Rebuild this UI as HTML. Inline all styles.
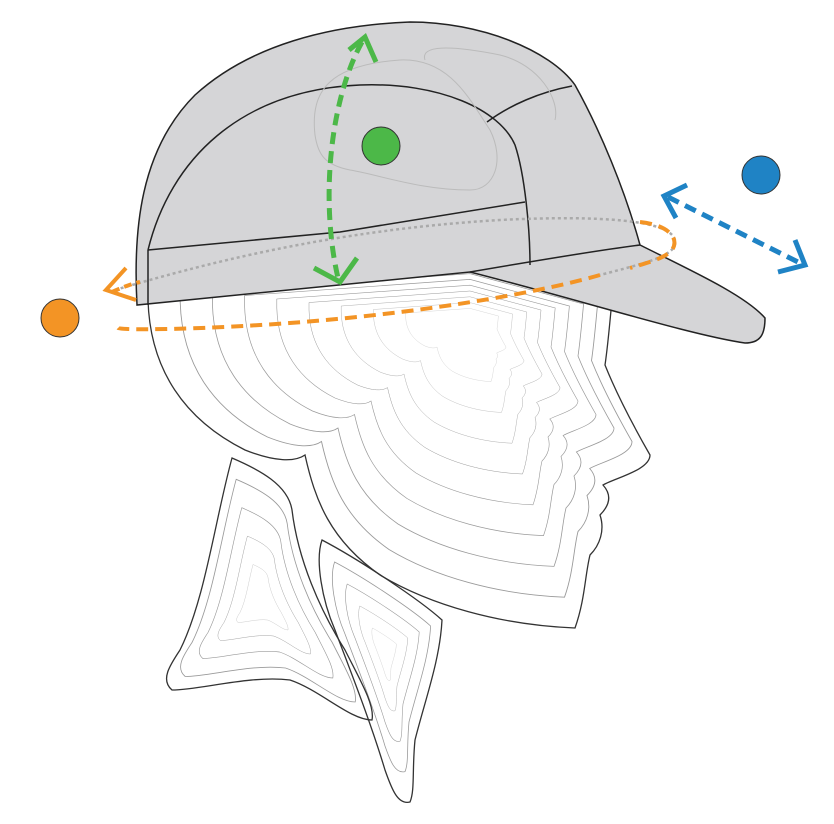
<!DOCTYPE html>
<html><head><meta charset="utf-8"><style>html,body{margin:0;padding:0;background:#fff;width:834px;height:824px;overflow:hidden}</style></head>
<body>
<svg width="834" height="824" viewBox="0 0 834 824" xmlns="http://www.w3.org/2000/svg">
<defs>
<path id="head" d="M148,300 C150,370 185,420 245,450 C275,462 295,462 305,455 C315,500 330,540 380,575 C430,605 500,625 575,628 C585,600 585,575 590,555 C600,545 605,530 600,515 C610,505 612,495 603,485 C615,478 650,470 650,455 C630,420 615,390 605,365 C608,345 610,320 612,300 L470,262 L148,285 Z"/>
<path id="n1" d="M232,458 C260,470 288,485 292,510 C298,560 320,610 345,650 C360,680 375,705 372,720 C350,720 320,690 290,680 C250,675 200,690 172,690 C160,680 170,665 180,650 C205,600 215,520 232,458 Z"/>
<path id="n2" d="M322,540 C360,560 420,600 442,620 C440,660 425,700 415,740 C412,770 415,790 410,802 C398,805 392,790 385,770 C370,720 350,670 335,630 C322,600 315,560 322,540 Z"/>
</defs>
<g fill="none" stroke="#9a9a9a" stroke-width="1">
  <use href="#head" transform="translate(470,320) scale(0.9) translate(-470,-320)"/>
  <use href="#head" transform="translate(470,320) scale(0.8) translate(-470,-320)"/>
  <use href="#head" transform="translate(470,320) scale(0.7) translate(-470,-320)"/>
  <use href="#head" transform="translate(470,320) scale(0.6) translate(-470,-320)"/>
  <use href="#head" transform="translate(470,320) scale(0.5) translate(-470,-320)"/>
  <use href="#head" transform="translate(470,320) scale(0.4) translate(-470,-320)"/>
  <use href="#head" transform="translate(470,320) scale(0.3) translate(-470,-320)"/>
  <use href="#head" transform="translate(470,320) scale(0.2) translate(-470,-320)"/>
  <use href="#n1" transform="translate(260,600) scale(0.85) translate(-260,-600)"/>
  <use href="#n1" transform="translate(260,600) scale(0.65) translate(-260,-600)"/>
  <use href="#n1" transform="translate(260,600) scale(0.45) translate(-260,-600)"/>
  <use href="#n1" transform="translate(260,600) scale(0.25) translate(-260,-600)"/>
  <use href="#n2" transform="translate(385,650) scale(0.8) translate(-385,-650)"/>
  <use href="#n2" transform="translate(385,650) scale(0.6) translate(-385,-650)"/>
  <use href="#n2" transform="translate(385,650) scale(0.4) translate(-385,-650)"/>
  <use href="#n2" transform="translate(385,650) scale(0.2) translate(-385,-650)"/>
</g>
<g fill="none" stroke="#333" stroke-width="1.3">
  <use href="#head"/><use href="#n1"/><use href="#n2"/>
</g>
<!-- cap -->
<path d="M137,305 C133,230 140,150 195,95 C250,45 330,25 410,22 C480,22 550,50 575,85 C600,130 625,190 640,245 C690,270 745,295 765,318 C765,335 760,343 745,343 C690,335 580,300 470,272 L137,305 Z" fill="#d5d5d7" stroke="#222" stroke-width="1.5"/>
<path d="M148,250 C170,160 240,90 360,85 C440,82 500,110 515,145 C525,175 530,230 530,265" fill="none" stroke="#222" stroke-width="1.5"/>
<path d="M148,250 L148,305" fill="none" stroke="#222" stroke-width="1.5"/>
<path d="M148,250 L340,232 L525,202" fill="none" stroke="#222" stroke-width="1.5"/>
<path d="M487,122 C510,105 540,92 572,86" fill="none" stroke="#222" stroke-width="1.5"/>
<path d="M470,272 C540,260 600,250 640,245" fill="none" stroke="#222" stroke-width="1.5"/>
<path d="M315,135 C310,90 330,65 400,60 C450,58 470,100 490,130 C505,160 495,190 470,190 C420,190 380,175 350,170 C325,165 318,155 315,135 Z" fill="none" stroke="#bbb" stroke-width="1"/>
<path d="M425,60 C420,45 450,45 500,55 C540,65 560,100 555,120" fill="none" stroke="#bbb" stroke-width="1"/>
<!-- orange ellipse -->
<path d="M115,290 C200,265 330,230 500,220 C600,215 670,220 675,240 C678,255 650,262 600,275" fill="none" stroke="#aaa" stroke-width="2.5" stroke-dasharray="3,3"/>
<path d="M600,275 C520,298 380,318 260,325 C180,330 120,330 118,328" fill="none" stroke="#f39425" stroke-width="4" stroke-dasharray="12,7"/>
<path d="M640,222 C668,225 680,238 672,250 C665,258 650,262 630,268" fill="none" stroke="#f39425" stroke-width="4" stroke-dasharray="12,7"/>
<path d="M112,292 C125,286 135,283 140,282" fill="none" stroke="#f39425" stroke-width="4" stroke-dasharray="8,5"/>
<path d="M126,268 L106,290 L136,300" fill="none" stroke="#f39425" stroke-width="4"/>
<!-- green arrow -->
<path d="M362,42 C330,100 320,200 338,278" fill="none" stroke="#4cb848" stroke-width="5" stroke-dasharray="12,7"/>
<path d="M349,50 L365,37 L376,62" fill="none" stroke="#4cb848" stroke-width="5"/>
<path d="M314,268 L340,282 L357,258" fill="none" stroke="#4cb848" stroke-width="5"/>
<!-- blue arrow -->
<path d="M668,197 L802,264" fill="none" stroke="#1f83c5" stroke-width="5" stroke-dasharray="12,7"/>
<path d="M687,185 L664,196 L676,218" fill="none" stroke="#1f83c5" stroke-width="5"/>
<path d="M778,272 L805,265 L795,240" fill="none" stroke="#1f83c5" stroke-width="5"/>
<!-- dots -->
<circle cx="381" cy="146" r="19" fill="#4cb848" stroke="#333" stroke-width="1"/>
<circle cx="761" cy="175" r="19" fill="#1f83c5" stroke="#333" stroke-width="1"/>
<circle cx="60" cy="318" r="19" fill="#f39425" stroke="#333" stroke-width="1"/>
</svg>
</body></html>
